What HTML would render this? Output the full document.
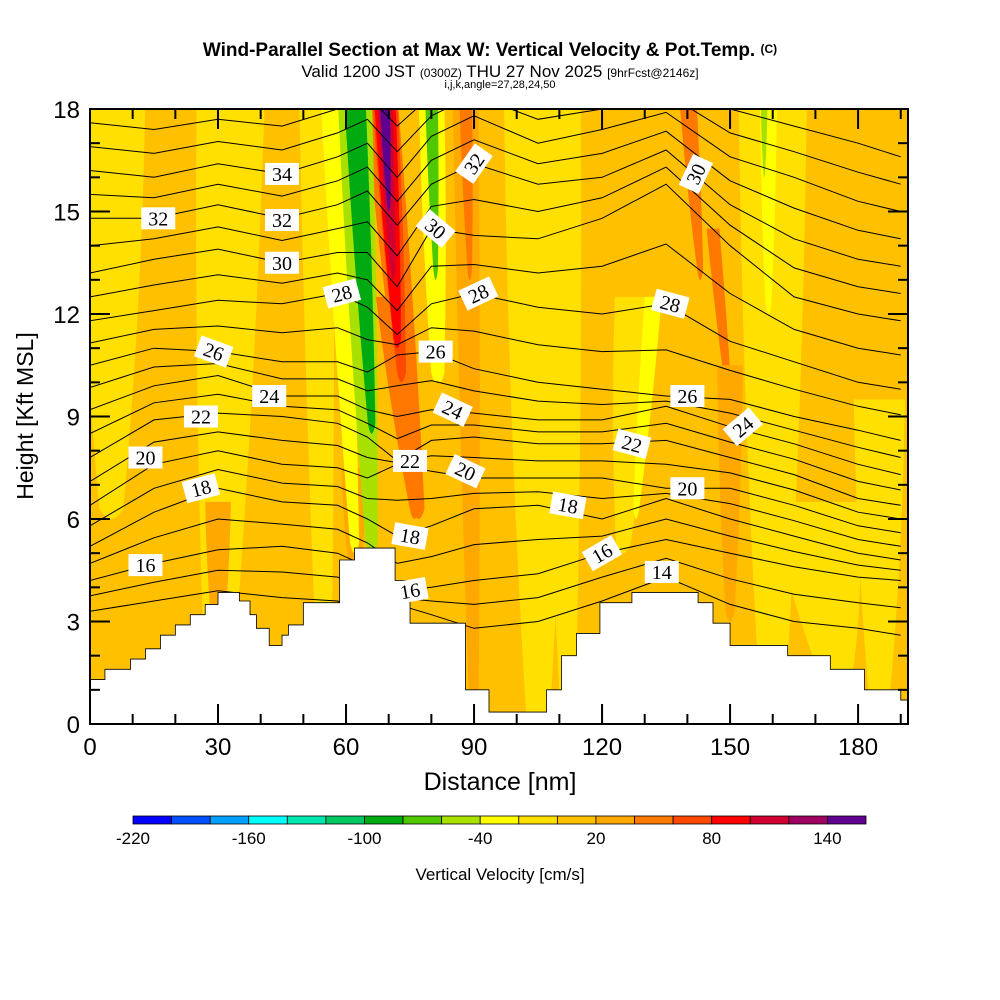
<!DOCTYPE html>
<html><head><meta charset="utf-8">
<style>
html,body{margin:0;padding:0;background:#fff;}
svg{display:block;font-family:"Liberation Sans",sans-serif;}
</style></head>
<body>
<svg id="chart" width="1000" height="1000" viewBox="0 0 1000 1000" xmlns="http://www.w3.org/2000/svg">
<rect x="0" y="0" width="1000" height="1000" fill="#fff"/>
<text x="490" y="56" text-anchor="middle" font-size="19" font-weight="bold">Wind-Parallel Section at Max W: Vertical Velocity &amp; Pot.Temp. <tspan font-size="12" dy="-3">(C)</tspan></text>
<text x="500" y="77" text-anchor="middle" font-size="17">Valid 1200 JST <tspan font-size="12">(0300Z)</tspan> THU 27 Nov 2025 <tspan font-size="12">[9hrFcst@2146z]</tspan></text>
<text x="500" y="88" text-anchor="middle" font-size="11">i,j,k,angle=27,28,24,50</text>
<defs><clipPath id="plotclip"><rect x="90" y="109" width="818" height="615"/></clipPath></defs>
<g id="plot" clip-path="url(#plotclip)"></g>
<g id="axes"></g>
<g id="cbar"></g>
<text x="500" y="790" text-anchor="middle" font-size="25">Distance [nm]</text>
<text x="0" y="0" transform="translate(33,416) rotate(-90)" text-anchor="middle" font-size="23">Height [Kft MSL]</text>
<text x="500" y="880" text-anchor="middle" font-size="17">Vertical Velocity [cm/s]</text>
</svg>
<script>
// ---- data ----
const cbarLevels = [-220,-200,-180,-160,-140,-120,-100,-80,-60,-40,-20,0,20,40,60,80,100,120,140,160];
const cbarColors = ["#0000ff","#0050ff","#00a0ff","#00ffff","#00e8b0","#00c860","#00aa10","#50c800","#a8e000","#ffff00","#ffe000","#ffc000","#ffa800","#ff7800","#ff4800","#ff0000","#d00030","#a00060","#600090"];
const cbarTickLabels = [-220,-160,-100,-40,20,80,140];
const xTicks = [0,30,60,90,120,150,180];
const yTicks = [0,3,6,9,12,15,18];
// vertical-velocity stripes (cm/s) : value, top center (nm), bottom center (nm), half width (nm), top h, bottom h (kft)
const stripeW    = [-20,-20,-20,-20,-20,-20,-20,-20,-20, 20, 20,-40,-40, 40, 20, -40,-60,-100, 40, 60, 80,100,140, -40,-80, 40, 40, 40, 20, -40,-60];
const stripeTopX = [  5, 33, 53,105,128,160,185,170,110, 30, 62, 57,132, 68, 88,  80, 62,  62, 70, 69, 69, 69, 69,  80, 80, 88,140,146,150, 159,158];
const stripeBotX = [  5, 30, 55,105,125,160,185,175,112, 30, 62, 62,128, 77, 90,  82, 66,  66, 76, 73, 72, 71, 70,  81, 81, 89,143,150,150, 159,158];
const stripeHW   = [  8,  8,  4,  8,  5,  8,  6, 10,  5,  3,  3,  3,  2,  4,  3,   3,  4, 2.5,  3,  3,2.5,1.8,1.2,   3,1.5,1.5,  2,1.5,  3,   2,0.8];
const stripeTopH = [ 18, 18, 18, 18, 12, 18,  9,  6, 18,  6,  7, 18, 12, 18, 18,  18, 18,  18, 12, 18, 18, 18, 18,  18, 18, 18, 18, 14, 10,  18, 18];
const stripeBotH = [  6,  0,  0,  0,  5,  0,  0,  1,  0,  2,  4,  5,  6,  6,  0,  10,  5, 8.5,  6, 10, 11, 13, 15,  10, 13, 13, 13,  9,  3,  12, 16];
// potential temperature contours (K) heights (kft) at nodes
const thetaX = [0,15,30,45,58,65,72,80,90,105,120,135,150,165,180,190];
const thetaLevels = [14,16,18,20,22,24,26,28,30,32,34,36];
const thetaH = [
 [3.3,3.6,3.9,3.7,3.6,3.3,3.5,3.2,2.8,3.0,3.6,4.3,3.5,3.0,2.8,2.6],
 [4.2,4.7,5.1,5.2,5.0,4.6,3.9,4.0,4.2,4.4,5.0,5.4,5.0,4.6,4.3,4.2],
 [5.2,6.2,6.9,6.5,6.4,6.0,5.5,5.8,6.3,6.4,6.0,6.6,6.0,5.5,5.0,4.8],
 [6.4,7.6,8.0,7.6,7.5,7.2,7.6,7.4,7.2,7.2,7.2,6.9,6.9,6.4,5.8,5.6],
 [7.8,8.9,9.1,9.0,8.8,8.4,7.7,8.3,8.4,8.2,8.2,8.3,7.8,7.3,6.6,6.4],
 [9.2,9.9,10.2,9.6,9.6,9.2,9.0,9.2,9.1,8.9,8.9,9.3,8.7,8.2,7.6,7.3],
 [10.5,11.0,10.9,10.6,10.6,10.3,10.8,10.9,10.4,10.0,9.8,9.6,9.5,9.0,8.6,8.3],
 [11.8,12.1,12.4,12.3,12.6,12.2,11.4,12.3,12.6,12.2,12.0,12.3,11.2,10.6,10.0,9.8],
 [13.2,13.6,13.9,13.5,13.8,13.8,12.8,14.5,14.3,14.2,14.8,15.8,14.0,12.5,12.0,11.8],
 [14.8,14.8,15.2,14.8,15.2,15.6,14.6,15.8,16.4,15.8,16.0,16.8,15.2,14.2,13.6,13.4],
 [16.2,16.0,16.4,16.1,16.6,17.0,16.0,17.2,17.8,17.0,17.4,17.9,16.6,16.0,15.3,15.0],
 [17.6,17.4,17.7,17.5,18.0,18.4,17.5,18.4,19.0,18.4,18.6,19.0,18.0,17.5,17.0,16.6]
];
const labelVal = [16,18,20,22,24,26,28,30,32,32,34, 14,16,18,20,22,24,26,28,30, 16,18,20,22,24,26,28,30,32];
const labelX   = [13,26,13,26,42,29,59,45,45,16,45, 134,120,112,140,127,153,140,136,142, 75,75,88,75,85,81,91,81,90];
const labelH   = [4.65,6.9,7.8,9.0,9.6,10.9,12.6,13.5,14.75,14.8,16.1, 4.45,5.0,6.4,6.9,8.2,8.7,9.6,12.3,16.1, 3.9,5.5,7.4,7.7,9.2,10.9,12.6,14.5,16.4];
const labelRot = [0,-15,0,0,0,20,-15,0,0,0,0, 0,-30,10,0,15,-40,0,15,-65, -10,10,25,0,25,0,-25,40,-55];
// terrain (step profile)
const terrainX = [0,3.5,9.5,13,16.5,20,23.5,27,30,32.5,35,37.5,39,42,45,46.5,50,58.5,62,68,71.5,75,80,88,93.5,98.5,107,110.5,114,119.5,127,139,142.5,146,150,159.5,163.5,173.5,181.5,190];
const terrainH = [1.3,1.6,1.9,2.2,2.6,2.9,3.2,3.5,3.85,3.85,3.6,3.2,2.8,2.3,2.6,2.9,3.55,4.8,5.15,5.15,4.2,2.95,2.95,1.0,0.35,0.35,1.0,2.0,2.65,3.55,3.85,3.85,3.55,2.95,2.3,2.3,2.0,1.6,1.0,0.7];

// ---- scales ----
const X0=90, X1=908, Y0=724, Y1=109;
const sx = d => X0 + d*(X1-X0)/191.7;
const sy = h => Y0 - h*(Y0-Y1)/18;
const NS="http://www.w3.org/2000/svg";
function mk(tag, parent, attrs){const e=document.createElementNS(NS,tag);for(const k in attrs)e.setAttribute(k,attrs[k]);parent.appendChild(e);return e;}
function colorFor(v){for(let i=0;i<cbarColors.length;i++){if(v<cbarLevels[i+1])return cbarColors[i];}return cbarColors[cbarColors.length-1];}
const plot=document.getElementById('plot');

const bg=mk('rect',plot,{x:X0,y:Y1,width:X1-X0,height:Y0-Y1,fill:colorFor(10)});



for(let i=0;i<stripeW.length;i++){
  const tx=stripeTopX[i], bx=stripeBotX[i], hw=stripeHW[i], th=stripeTopH[i]+0.5, bh=stripeBotH[i];
  const mx=(tx+bx)/2, mh=(th+bh)/2, bw=hw*0.35;
  const d=`M${sx(tx-hw)},${sy(th)} L${sx(tx+hw)},${sy(th)} Q${sx(mx+hw*0.9)},${sy(mh)} ${sx(bx+bw)},${sy(bh+0.3)} Q${sx(bx)},${sy(bh-0.3)} ${sx(bx-bw)},${sy(bh+0.3)} Q${sx(mx-hw*0.9)},${sy(mh)} ${sx(tx-hw)},${sy(th)} Z`;
  const p=mk('path',plot,{d:d,fill:colorFor(stripeW[i])});
  
  
}

function linePath(hs){return hs.map((h,j)=>(j?'L':'M')+sx(thetaX[j]).toFixed(1)+','+sy(h).toFixed(1)).join(' ');}
for(let i=0;i<thetaLevels.length;i++){
  const c=mk('path',plot,{d:linePath(thetaH[i]),fill:'none',stroke:'#000','stroke-width':1});
  
  
  if(i<thetaLevels.length-1){
    const mid=thetaH[i].map((h,j)=>(h+thetaH[i+1][j])/2);
    const c2=mk('path',plot,{d:linePath(mid),fill:'none',stroke:'#000','stroke-width':1});
    
    
  }
}

let td=`M${sx(0)},${Y0+2}`;
for(let i=0;i<terrainX.length;i++){
  const xe=i<terrainX.length-1?terrainX[i+1]:191.7;
  td+=` L${sx(terrainX[i])},${sy(terrainH[i])} L${sx(xe)},${sy(terrainH[i])}`;
}
td+=` L${X1},${Y0+2} Z`;
const terr=mk('path',plot,{d:td,fill:'#fff',stroke:'#000','stroke-width':0.8});



for(let i=0;i<labelVal.length;i++){
  const g=mk('g',plot,{transform:`translate(${sx(labelX[i])},${sy(labelH[i])}) rotate(${labelRot[i]})`});
  
  
  mk('rect',g,{x:-17,y:-11,width:34,height:22,fill:'#fff'});
  const t=mk('text',g,{x:0,y:7,'text-anchor':'middle','font-size':20,'font-family':'Liberation Serif, serif'});
  t.textContent=labelVal[i];
}

// ---- axes ----
const ax=document.getElementById('axes');
const frame=mk('rect',ax,{x:X0,y:Y1,width:X1-X0,height:Y0-Y1,fill:'none',stroke:'#000','stroke-width':2});


for(let d=0;d<=190;d+=10){
  const major=d%30===0;
  const l=mk('line',ax,{x1:sx(d),x2:sx(d),y1:Y1,y2:Y1+(major?20:10),stroke:'#000','stroke-width':2});
  
  
  const l2=mk('line',ax,{x1:sx(d),x2:sx(d),y1:Y0,y2:Y0-(major?20:10),stroke:'#000','stroke-width':2});
  
  
}
for(let h=0;h<=18;h++){
  const major=h%3===0;
  const l=mk('line',ax,{x1:X1,x2:X1-(major?20:10),y1:sy(h),y2:sy(h),stroke:'#000','stroke-width':2});
  
  
  const l2=mk('line',ax,{x1:X0,x2:X0+(major?20:10),y1:sy(h),y2:sy(h),stroke:'#000','stroke-width':2});
  
  
}
xTicks.forEach(d=>{
  const t=mk('text',ax,{x:sx(d),y:755,'text-anchor':'middle','font-size':24});
  
  
  t.textContent=d;
});
yTicks.forEach(h=>{
  const t=mk('text',ax,{x:80,y:sy(h)+9,'text-anchor':'end','font-size':24});
  
  
  t.textContent=h;
});

// ---- colorbar ----
const cb=document.getElementById('cbar');
const CB0=133, CB1=866, segW=(CB1-CB0)/cbarColors.length;
cbarColors.forEach((c,i)=>{
  const r=mk('rect',cb,{x:CB0+i*segW,y:816,width:segW,height:8,fill:c,stroke:'#000','stroke-width':0.8});
  
  
});
cbarTickLabels.forEach(v=>{
  const idx=cbarLevels.indexOf(v);
  const t=mk('text',cb,{x:CB0+idx*segW,y:844,'text-anchor':'middle','font-size':17});
  
  
  t.textContent=v;
});
</script>
</body></html>
